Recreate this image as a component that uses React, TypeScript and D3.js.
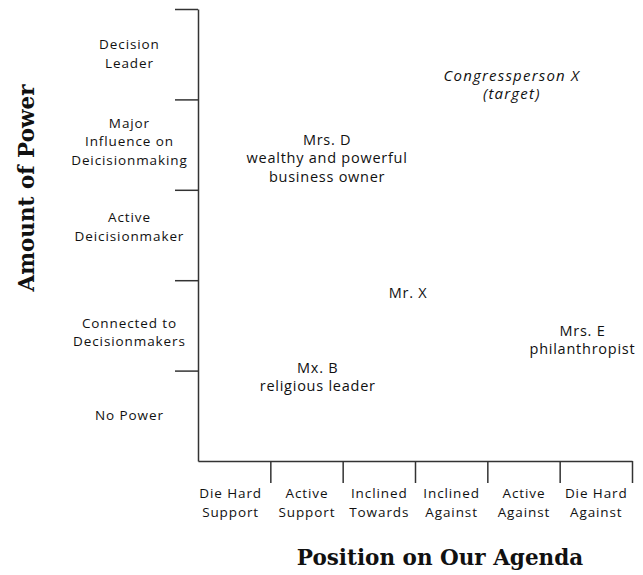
import { useEffect, useRef } from "react";
import * as d3 from "d3";

const positionLabels: string[][] = [
  ["Die Hard", "Support"],
  ["Active", "Support"],
  ["Inclined", "Towards"],
  ["Inclined", "Against"],
  ["Active", "Against"],
  ["Die Hard", "Against"],
];

const powerLabels: string[][] = [
  ["No Power"],
  ["Connected to", "Decisionmakers"],
  ["Active", "Deicisionmaker"],
  ["Major", "Influence on", "Deicisionmaking"],
  ["Decision", "Leader"],
];

const peopleNames = ["Congressperson X", "Mrs. D", "Mr. X", "Mrs. E", "Mx. B"];
const peopleNotes = ["(target)", "wealthy and powerful\nbusiness owner", "", "philanthropist", "religious leader"];
const peoplePosition = [4.33, 1.78, 2.9, 5.31, 1.65];
const peoplePower = [4.16, 3.35, 1.86, 1.34, 0.93];
const peopleItalic = [true, false, false, false, false];

const SANS = "'Open Sans', sans-serif";
const SERIF = "'DejaVu Serif', serif";

export default function App() {
  const ref = useRef<SVGSVGElement | null>(null);
  const width = 643;
  const height = 575;

  useEffect(() => {
    const svg = d3.select(ref.current);
    svg.selectAll("*").remove();

    const x = d3.scaleLinear().domain([0, positionLabels.length]).range([198, 632]);
    const y = d3.scaleLinear().domain([0, powerLabels.length]).range([461, 9]);
    const axisColor = "#333";

    // axes
    svg
      .append("g")
      .attr("transform", `translate(${x(0)},0)`)
      .call(
        d3
          .axisLeft(y)
          .tickValues(d3.range(1, powerLabels.length + 1))
          .tickSize(23)
          .tickSizeOuter(0)
          .tickFormat(() => ""),
      )
      .call((sel) => sel.selectAll("line, path").attr("stroke", axisColor).attr("stroke-width", 1.5));

    svg
      .append("g")
      .attr("transform", `translate(0,${y(0)})`)
      .call(
        d3
          .axisBottom(x)
          .tickValues(d3.range(1, positionLabels.length + 1))
          .tickSize(22)
          .tickSizeOuter(0)
          .tickFormat(() => ""),
      )
      .call((sel) => sel.selectAll("line, path").attr("stroke", axisColor).attr("stroke-width", 1.5));

    // multi-line centred text; letter-spacing adds a trailing gap, so nudge by half
    const lh = 18.5;
    const block = (
      cx: number,
      top: number,
      lines: string[],
      size: number,
      ls: number,
      weight: number,
      italic = false,
    ) => {
      const t = svg
        .append("text")
        .attr("y", top)
        .attr("text-anchor", "middle")
        .attr("font-family", SANS)
        .attr("font-size", size)
        .attr("font-weight", weight)
        .attr("font-style", italic ? "italic" : "normal")
        .attr("letter-spacing", ls)
        .attr("fill", "#111");
      lines.forEach((l, j) =>
        t.append("tspan").attr("x", cx + ls / 2).attr("dy", j ? lh : 0).text(l),
      );
    };

    positionLabels.forEach((lines, i) =>
      block(x(i + 0.5) - (i === 0 ? 4 : 0), 498, lines, 13.5, 0.9, 500),
    );

    // small per-row nudges so the labels sit where the original puts them
    const rowNudge = [0, 7, -8, -3, 0];
    powerLabels.forEach((lines, i) =>
      block(
        129,
        y(i + 0.5) - ((lines.length - 1) * lh) / 2 + 4.5 + rowNudge[i],
        lines,
        13.5,
        0.9,
        500,
      ),
    );

    // axis titles
    svg
      .append("text")
      .attr("x", 440)
      .attr("y", 565)
      .attr("text-anchor", "middle")
      .attr("font-family", SERIF)
      .attr("font-weight", "bold")
      .attr("font-size", 21.5)
      .attr("fill", "#111")
      .text("Position on Our Agenda");

    svg
      .append("text")
      .attr("transform", `translate(34,188) rotate(-90)`)
      .attr("text-anchor", "middle")
      .attr("font-family", SERIF)
      .attr("font-weight", "bold")
      .attr("font-size", 21.5)
      .attr("fill", "#111")
      .text("Amount of Power");

    // people
    peopleNames.forEach((name, i) => {
      const lines = [name, ...peopleNotes[i].split("\n").filter((s) => s)];
      const cx = x(peoplePosition[i]);
      const cy = y(peoplePower[i]);
      const italic = peopleItalic[i];
      block(
        cx,
        cy - ((lines.length - 1) * lh) / 2 + 5,
        lines,
        italic ? 15 : 14.5,
        italic ? 1.2 : 0.75,
        400,
        italic,
      );
    });
  }, []);

  return (
    <svg
      ref={ref}
      width={width}
      height={height}
      viewBox={`0 0 ${width} ${height}`}
      style={{ position: "absolute", left: 0, top: 0, background: "#fff" }}
    />
  );
}
